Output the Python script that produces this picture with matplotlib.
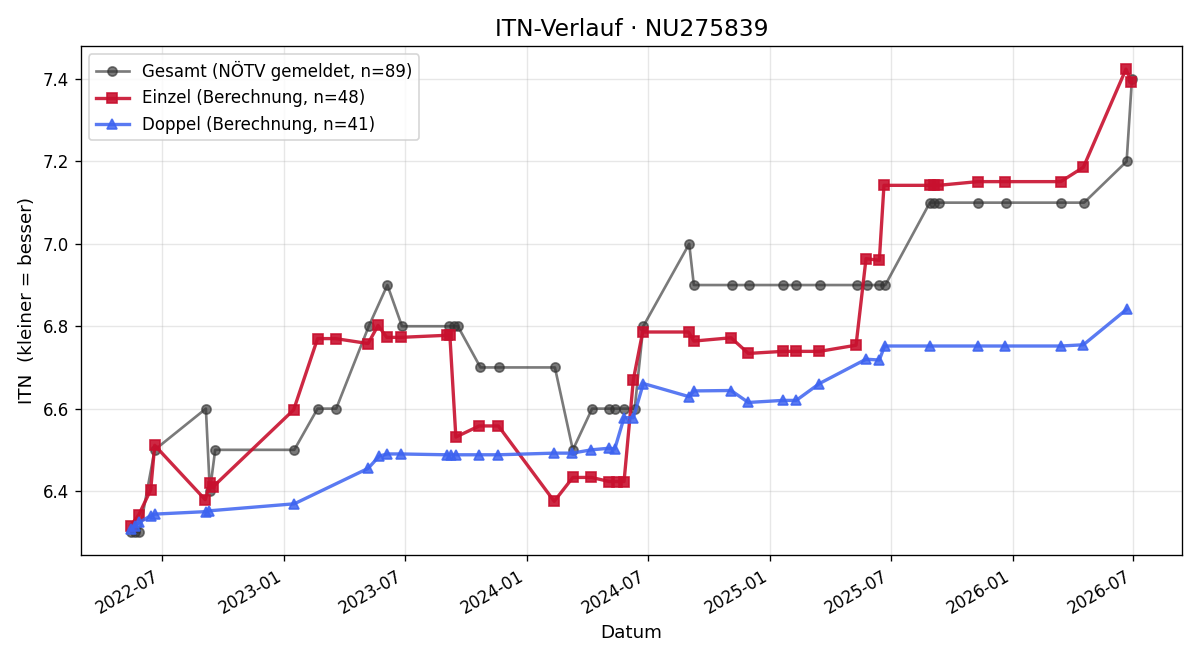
import matplotlib
matplotlib.use("Agg")
import matplotlib.pyplot as plt
import matplotlib.dates as mdates
import pandas as pd

# Gesamt (NOETV gemeldet)
ges_dates = ["2022-05-16", "2022-05-22", "2022-05-28", "2022-06-20", "2022-09-05",
             "2022-09-11", "2022-09-19", "2023-01-16", "2023-02-20", "2023-03-20",
             "2023-05-08", "2023-06-05", "2023-06-27", "2023-09-05", "2023-09-13",
             "2023-09-19", "2023-10-23", "2023-11-20", "2024-02-12", "2024-03-10",
             "2024-04-08", "2024-05-04", "2024-05-12", "2024-05-26", "2024-06-11",
             "2024-06-24", "2024-09-01", "2024-09-08", "2024-11-05", "2024-11-30",
             "2025-01-20", "2025-02-09", "2025-03-17", "2025-05-11", "2025-05-26",
             "2025-06-14", "2025-06-23", "2025-08-29", "2025-09-05", "2025-09-12",
             "2025-11-09", "2025-12-21", "2026-03-15", "2026-04-18", "2026-06-21",
             "2026-06-29"]
ges_itn = [6.3, 6.3, 6.3, 6.5, 6.6,
           6.4, 6.5, 6.5, 6.6, 6.6,
           6.8, 6.9, 6.8, 6.8, 6.8,
           6.8, 6.7, 6.7, 6.7, 6.5,
           6.6, 6.6, 6.6, 6.6, 6.6,
           6.8, 7.0, 6.9, 6.9, 6.9,
           6.9, 6.9, 6.9, 6.9, 6.9,
           6.9, 6.9, 7.1, 7.1, 7.1,
           7.1, 7.1, 7.1, 7.1, 7.2,
           7.4]

# Einzel (Berechnung)
ein_dates = ["2022-05-15", "2022-05-27", "2022-06-14", "2022-06-20", "2022-09-04",
             "2022-09-11", "2022-09-15", "2023-01-15", "2023-02-20", "2023-03-19",
             "2023-05-07", "2023-05-22", "2023-06-04", "2023-06-25", "2023-09-02",
             "2023-09-07", "2023-09-16", "2023-10-21", "2023-11-19", "2024-02-11",
             "2024-03-10", "2024-04-07", "2024-05-04", "2024-05-15", "2024-05-26",
             "2024-06-09", "2024-06-23", "2024-08-31", "2024-09-08", "2024-11-03",
             "2024-11-29", "2025-01-20", "2025-02-09", "2025-03-16", "2025-05-10",
             "2025-05-25", "2025-06-14", "2025-06-21", "2025-08-29", "2025-09-04",
             "2025-09-11", "2025-11-09", "2025-12-20", "2026-03-14", "2026-04-17",
             "2026-06-20", "2026-06-28"]
ein_itn = [6.316, 6.342, 6.403, 6.511, 6.379,
           6.419, 6.409, 6.597, 6.770, 6.770,
           6.758, 6.802, 6.773, 6.773, 6.778,
           6.778, 6.531, 6.558, 6.558, 6.375,
           6.433, 6.433, 6.423, 6.423, 6.423,
           6.670, 6.786, 6.786, 6.764, 6.772,
           6.734, 6.739, 6.739, 6.739, 6.754,
           6.964, 6.960, 7.142, 7.142, 7.142,
           7.142, 7.151, 7.151, 7.151, 7.186,
           7.424, 7.393]

# Doppel (Berechnung)
dop_dates = ["2022-05-16", "2022-05-22", "2022-05-28", "2022-06-14", "2022-06-20",
             "2022-09-05", "2022-09-10", "2023-01-16", "2023-05-07", "2023-05-24",
             "2023-06-05", "2023-06-25", "2023-09-02", "2023-09-09", "2023-09-16",
             "2023-10-21", "2023-11-19", "2024-02-11", "2024-03-09", "2024-04-07",
             "2024-05-04", "2024-05-12", "2024-05-26", "2024-06-09", "2024-06-24",
             "2024-09-01", "2024-09-08", "2024-11-03", "2024-11-29", "2025-01-20",
             "2025-02-09", "2025-03-16", "2025-05-25", "2025-06-14", "2025-06-22",
             "2025-08-29", "2025-11-09", "2025-12-20", "2026-03-14", "2026-04-17",
             "2026-06-21"]
dop_itn = [6.308, 6.316, 6.324, 6.340, 6.344,
           6.350, 6.352, 6.369, 6.455, 6.485,
           6.490, 6.490, 6.488, 6.488, 6.488,
           6.488, 6.488, 6.492, 6.492, 6.500,
           6.504, 6.502, 6.578, 6.578, 6.661,
           6.629, 6.643, 6.644, 6.615, 6.620,
           6.620, 6.661, 6.720, 6.718, 6.752,
           6.752, 6.752, 6.752, 6.752, 6.755,
           6.841]

fig, ax = plt.subplots(figsize=(10, 5.5), dpi=120)

ax.plot(pd.to_datetime(ges_dates), ges_itn, marker='o', color='#333333', alpha=0.65,
        linewidth=1.6, markersize=5.5, label='Gesamt (NÖTV gemeldet, n=89)')
ax.plot(pd.to_datetime(ein_dates), ein_itn, marker='s', color='#c8102e', alpha=0.9,
        linewidth=2, markersize=6.5, label='Einzel (Berechnung, n=48)')
ax.plot(pd.to_datetime(dop_dates), dop_itn, marker='^', color='#3d63f0', alpha=0.85,
        linewidth=2, markersize=6.5, label='Doppel (Berechnung, n=41)')

ax.set_title('ITN-Verlauf · NU275839', fontsize=14)
ax.set_xlabel('Datum', fontsize=11)
ax.set_ylabel('ITN  (kleiner = besser)', fontsize=11)
ax.grid(True, alpha=0.3)
ax.legend(loc='upper left')

ax.xaxis.set_major_locator(mdates.MonthLocator(bymonth=[1, 7]))
ax.xaxis.set_major_formatter(mdates.DateFormatter('%Y-%m'))
fig.autofmt_xdate()

fig.tight_layout()
fig.savefig('out.png')
